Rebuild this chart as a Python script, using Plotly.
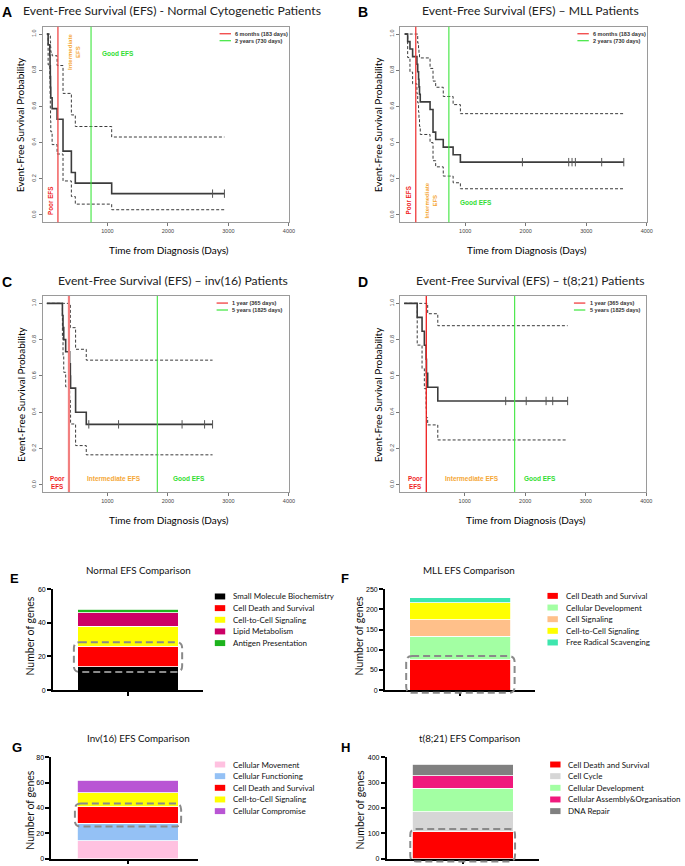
import bisect
import plotly.graph_objects as go

W, H = 685, 866

# ---------------- Kaplan-Meier data ----------------
A_time = [0, 21, 49, 53, 57, 61, 65, 87, 169, 267, 405, 470, 1071, 2934]
A_surv = [1.0, 0.941, 0.882, 0.824, 0.765, 0.706, 0.647, 0.588, 0.529, 0.353, 0.235, 0.176, 0.118, 0.118]
A_upper = [1.0, 1.0, 1.0, 0.99, 0.96, 0.93, 0.90, 0.88, 0.826, 0.672, 0.553, 0.489, 0.431, 0.431]
A_lower = [1.0, 0.83, 0.74, 0.66, 0.59, 0.52, 0.46, 0.389, 0.337, 0.188, 0.102, 0.06, 0.029, 0.029]
A_censor = [2738, 2934]
A_cuts = [183, 730]
A_cut_labels = ["6 months (183 days)", "2 years (730 days)"]

B_time = [0, 49, 87, 131, 202, 215, 229, 236, 245, 257, 419, 468, 512, 637, 800, 920, 3620]
B_surv = [1.0, 0.958, 0.917, 0.875, 0.833, 0.792, 0.75, 0.708, 0.667, 0.625, 0.583, 0.458, 0.417, 0.375, 0.333, 0.292, 0.292]
B_upper = [1.0, 1.0, 1.0, 1.0, 1.0, 0.95, 0.92, 0.89, 0.87, 0.868, 0.81, 0.74, 0.706, 0.655, 0.61, 0.56, 0.56]
B_lower = [1.0, 0.87, 0.79, 0.725, 0.67, 0.62, 0.57, 0.53, 0.49, 0.445, 0.40, 0.30, 0.266, 0.215, 0.178, 0.145, 0.145]
B_censor = [1945, 2710, 2765, 2820, 3255, 3620]
B_cuts = [183, 730]
B_cut_labels = ["6 months (183 days)", "2 years (730 days)"]

C_time = [0, 257, 267, 279, 311, 377, 388, 392, 475, 651, 2738]
C_surv = [1.0, 0.933, 0.867, 0.8, 0.733, 0.667, 0.6, 0.533, 0.4, 0.333, 0.333]
C_upper = [1.0, 1.0, 1.0, 1.0, 1.0, 1.0, 0.866, 0.866, 0.747, 0.687, 0.687]
C_lower = [1.0, 0.81, 0.71, 0.62, 0.54, 0.47, 0.40, 0.335, 0.216, 0.165, 0.165]
C_censor = [693, 1185, 2234, 2606, 2738]
C_cuts = [365, 1825]
C_cut_labels = ["1 year (365 days)", "5 years (1825 days)"]

D_time = [0, 215, 295, 333, 362, 368, 388, 555, 2700]
D_surv = [1.0, 0.923, 0.846, 0.769, 0.692, 0.615, 0.538, 0.462, 0.462]
D_upper = [1.0, 1.0, 1.0, 1.0, 1.0, 1.0, 0.943, 0.877, 0.877]
D_lower = [1.0, 0.77, 0.64, 0.53, 0.42, 0.37, 0.33, 0.247, 0.247]
D_censor = [1677, 2016, 2344, 2454, 2700]
D_cuts = [365, 1825]
D_cut_labels = ["1 year (365 days)", "5 years (1825 days)"]

km_xticks = [1000, 2000, 3000, 4000]
km_yticks = [0.0, 0.2, 0.4, 0.6, 0.8, 1.0]

# ---------------- gene count data ----------------
E_cats = ["Small Molecule Biochemistry", "Cell Death and Survival", "Cell-to-Cell Signaling",
          "Lipid Metabolism", "Antigen Presentation"]
E_vals = [14, 12, 12, 8, 2]
E_cols = ["#000000", "#FF0000", "#FFFF00", "#CC0066", "#1DB31D"]
E_yticks = [0, 20, 40, 60]

F_cats = ["Cell Death and Survival", "Cellular Development", "Cell Signaling",
          "Cell-to-Cell Signaling", "Free Radical Scavenging"]
F_vals = [75, 58, 41, 42, 13]
F_cols = ["#FF0000", "#A3FFA3", "#FFC08A", "#FFFF00", "#3EE6AE"]
F_yticks = [0, 50, 100, 150, 200, 250]

G_cats = ["Cellular Movement", "Cellular Functioning", "Cell Death and Survival",
          "Cell-to-Cell Signaling", "Cellular Compromise"]
G_vals = [14, 14, 13, 11, 10]
G_cols = ["#FFC1E0", "#94C1F5", "#FF0000", "#FFFF00", "#B955D4"]
G_yticks = [0, 20, 40, 60, 80]

H_cats = ["Cell Death and Survival", "Cell Cycle", "Cellular Development",
          "Cellular Assembly&Organisation", "DNA Repair"]
H_vals = [107, 78, 92, 49, 46]
H_cols = ["#FF0000", "#D6D6D6", "#A3FFA3", "#F0197D", "#808080"]
H_yticks = [0, 100, 200, 300, 400]

# ---------------- helpers ----------------
def px(x):
    return x / W


def py(y):
    return 1 - y / H


fig = go.Figure()
annotations = []
shapes = []

TXT = "Lato"
ARIAL = "Liberation Sans"


def ann(text, x, y, size, color="#000000", family=TXT, angle=0, xanchor="center", yanchor="middle", align="center"):
    annotations.append(dict(text=text, x=px(x), y=py(y), xref="paper", yref="paper", showarrow=False,
                            font=dict(size=size, color=color, family=family), textangle=angle,
                            xanchor=xanchor, yanchor=yanchor, align=align))


def step_value(times, surv, t):
    i = bisect.bisect_right(times, t) - 1
    return surv[max(i, 0)]


KM_RANGE_X = [-70, 4000]
KM_RANGE_Y = [-0.04, 1.04]

km_panels = [
    dict(key="", letter="A", xd=(43, 291.5), yd=(23, 220), t=A_time, s=A_surv, u=A_upper, l=A_lower, c=A_censor,
         cuts=A_cuts, cut_labels=A_cut_labels, red="#F04848", redw=1.3),
    dict(key="2", letter="B", xd=(404, 652.5), yd=(23, 220), t=B_time, s=B_surv, u=B_upper, l=B_lower, c=B_censor,
         cuts=B_cuts, cut_labels=B_cut_labels, red="#F03A3A", redw=1.3),
    dict(key="3", letter="C", xd=(43, 291.5), yd=(294.5, 492), t=C_time, s=C_surv, u=C_upper, l=C_lower, c=C_censor,
         cuts=C_cuts, cut_labels=C_cut_labels, red="#F27F7F", redw=2.2),
    dict(key="4", letter="D", xd=(403.5, 652), yd=(294.5, 492), t=D_time, s=D_surv, u=D_upper, l=D_lower, c=D_censor,
         cuts=D_cuts, cut_labels=D_cut_labels, red="#F01E1E", redw=1.3),
]

layout_axes = {}

for p in km_panels:
    k = p["key"]
    xa, ya = "x" + k, "y" + k
    common = dict(showgrid=False, zeroline=False, showline=True, mirror=True, linecolor="#9a9a9a",
                  linewidth=1, ticks="outside", ticklen=3, tickcolor="#777", fixedrange=True,
                  tickfont=dict(size=5.5, family=ARIAL, color="#444"))
    layout_axes["xaxis" + k] = dict(domain=[px(p["xd"][0]), px(p["xd"][1])], range=KM_RANGE_X,
                                    tickvals=km_xticks, anchor=ya, **common)
    layout_axes["yaxis" + k] = dict(domain=[py(p["yd"][1]), py(p["yd"][0])], range=KM_RANGE_Y,
                                    tickvals=km_yticks, ticktext=["%.1f" % v for v in km_yticks],
                                    tickangle=-90, anchor=xa, **common)
    for bound in (p["u"], p["l"]):
        fig.add_trace(go.Scatter(x=p["t"], y=bound, mode="lines", xaxis=xa, yaxis=ya, showlegend=False,
                                 line=dict(shape="hv", color="#3a3a3a", width=1, dash="3px,2px"),
                                 hoverinfo="skip"))
    fig.add_trace(go.Scatter(x=p["t"], y=p["s"], mode="lines", xaxis=xa, yaxis=ya, showlegend=False,
                             line=dict(shape="hv", color="#3c3c3c", width=1.6)))
    fig.add_trace(go.Scatter(x=p["c"], y=[step_value(p["t"], p["s"], t) for t in p["c"]], mode="markers",
                             xaxis=xa, yaxis=ya, showlegend=False,
                             marker=dict(symbol="line-ns", size=6, color="#555",
                                         line=dict(width=1, color="#555"))))
    for cut, col, w in zip(p["cuts"], [p["red"], "#3DE63D"], [p["redw"], 1.1]):
        shapes.append(dict(type="line", xref=xa, yref=ya + " domain", x0=cut, x1=cut, y0=0, y1=1,
                           line=dict(color=col, width=w), layer="above"))
    x0, x1 = p["xd"]
    y0, y1 = p["yd"]
    ann("<b>%s</b>" % p["letter"], x0 - 36 if x0 < 100 else x0 - 37.5, y0 - 14.5, 14, family=ARIAL)
    ann("Time from Diagnosis (Days)", (x0 + x1) / 2 + 3, y1 + 28.5, 10)
    ann("Event-Free Survival Probability", x0 - 22.5, (y0 + y1) / 2 + 0.5, 10, angle=-90)
    for j, (lab, col) in enumerate(zip(p["cut_labels"], [p["red"], "#3DE63D"])):
        ly = y0 + 7 + j * 7
        lx = x1 - 70 if p["letter"] in "AB" else x1 - 73
        shapes.append(dict(type="line", xref="paper", yref="paper", x0=px(lx), x1=px(lx + 11.5),
                           y0=py(ly), y1=py(ly), line=dict(color=col if j else "#F03030", width=1.2)))
        ann("<b>%s</b>" % lab, lx + 14, ly, 5.5, color="#333", family=ARIAL, xanchor="left")

# KM titles
ann("Event-Free Survival (EFS) - Normal Cytogenetic Patients", 174, 6.5, 12.2, color="#222")
ann("Event-Free Survival (EFS) \u2013 MLL Patients", 535.3, 6.5, 12.2, color="#222")
ann("Event-Free Survival (EFS) \u2013 inv(16) Patients", 174.7, 278.3, 12.2, color="#222")
ann("Event-Free Survival (EFS) \u2013 t(8;21) Patients", 535, 278.3, 12.2, color="#222")

RED, ORANGE, GREEN = "#F01E1E", "#F5A735", "#33DD33"
ann("<b>Poor EFS</b>", 51, 199, 6.3, RED, ARIAL, angle=-90)
ann("<b>Intermediate<br>EFS</b>", 74, 48, 6, ORANGE, ARIAL, angle=-90)
ann("<b>Good EFS</b>", 119, 50, 6.5, GREEN, ARIAL)
ann("<b>Poor EFS</b>", 411.7, 198, 6.3, RED, ARIAL, angle=-90)
ann("<b>Intermediate<br>EFS</b>", 434.7, 198.3, 6, ORANGE, ARIAL, angle=-90)
ann("<b>Good EFS</b>", 480, 200, 6.5, GREEN, ARIAL)
ann("<b>Poor<br>EFS</b>", 58.3, 482.5, 6.3, RED, ARIAL)
ann("<b>Intermediate EFS</b>", 115.5, 478.3, 6.5, ORANGE, ARIAL)
ann("<b>Good EFS</b>", 190.8, 478.3, 6.5, GREEN, ARIAL)
ann("<b>Poor<br>EFS</b>", 419.5, 482.5, 6.3, RED, ARIAL)
ann("<b>Intermediate EFS</b>", 476, 478.3, 6.5, ORANGE, ARIAL)
ann("<b>Good EFS</b>", 544.8, 478.3, 6.5, GREEN, ARIAL)

# ---------------- stacked bar panels ----------------
bar_panels = [
    dict(key="5", letter="E", title="Normal EFS Comparison", cats=E_cats, vals=E_vals, cols=E_cols,
         yt=E_yticks, xd=(53.3, 205), yd=(590, 691.7), xr=[-0.75, 0.75],
         hl=(-0.54, 0.54, 10.8, 28.5), letter_xy=(15, 579), title_xy=(139.5, 570.7), ytitle=(30, 637),
         leg_sq=216.7, leg_txt=233.3, leg_y0=597.3),
    dict(key="6", letter="F", title="MLL EFS Comparison", cats=F_cats, vals=F_vals, cols=F_cols,
         yt=F_yticks, xd=(388.3, 540), yd=(590, 691.7), xr=[-0.746, 0.745],
         hl=(-0.535, 0.54, -6.6, 84.4), letter_xy=(348.3, 579), title_xy=(473.3, 570.7), ytitle=(361.7, 637),
         leg_sq=552.3, leg_txt=568.7, leg_y0=596.7),
    dict(key="7", letter="G", title="Inv(16) EFS Comparison", cats=G_cats, vals=G_vals, cols=G_cols,
         yt=G_yticks, xd=(51.7, 200), yd=(759.3, 861.7), xr=[-0.76, 0.70],
         hl=(-0.525, 0.53, 25.3, 43.5), letter_xy=(16.7, 750), title_xy=(139.5, 740), ytitle=(30, 812.5),
         leg_sq=216.7, leg_txt=233.3, leg_y0=766.7),
    dict(key="8", letter="H", title="t(8;21) EFS Comparison", cats=H_cats, vals=H_vals, cols=H_cols,
         yt=H_yticks, xd=(390, 543.3), yd=(759.3, 861.7), xr=[-0.755, 0.753],
         hl=(-0.52, 0.52, -10.4, 117.3), letter_xy=(348.3, 750), title_xy=(473.3, 740), ytitle=(362.7, 812.5),
         leg_sq=555, leg_txt=571, leg_y0=766.7),
]

for p in bar_panels:
    k = p["key"]
    xa, ya = "x" + k, "y" + k
    yr = [p["yt"][0], p["yt"][-1]]
    layout_axes["xaxis" + k] = dict(domain=[px(p["xd"][0]), px(p["xd"][1])], range=p["xr"], anchor=ya,
                                    showgrid=False, zeroline=False, showline=True, linecolor="#000",
                                    linewidth=1.5, ticks="outside", ticklen=4, tickwidth=1.5,
                                    tickcolor="#000", tickvals=[0], ticktext=[""], fixedrange=True)
    layout_axes["yaxis" + k] = dict(domain=[py(p["yd"][1]), py(p["yd"][0])], range=yr, anchor=xa,
                                    showgrid=False, zeroline=False, showline=True, linecolor="#000",
                                    linewidth=1.5, ticks="outside", ticklen=4, tickwidth=1.5,
                                    tickcolor="#000", tickvals=p["yt"], fixedrange=True,
                                    tickfont=dict(size=7, family=ARIAL, color="#000"))
    for cat, v, col in zip(p["cats"], p["vals"], p["cols"]):
        fig.add_trace(go.Bar(x=[0], y=[v], width=1, name=cat, xaxis=xa, yaxis=ya, showlegend=False,
                             marker=dict(color=col, line=dict(color="#FFFFFF", width=0.8))))

    def mx(v, p=p):
        return p["xd"][0] + (v - p["xr"][0]) / (p["xr"][1] - p["xr"][0]) * (p["xd"][1] - p["xd"][0])

    def my(v, p=p, yr=yr):
        return p["yd"][1] - (v - yr[0]) / (yr[1] - yr[0]) * (p["yd"][1] - p["yd"][0])

    hx0, hx1, hy0, hy1 = mx(p["hl"][0]), mx(p["hl"][1]), my(p["hl"][3]), my(p["hl"][2])
    r = 6
    pts = [
        ("M", hx0 + r, hy0), ("L", hx1 - r, hy0), ("Q", hx1, hy0, hx1, hy0 + r), ("L", hx1, hy1 - r),
        ("Q", hx1, hy1, hx1 - r, hy1), ("L", hx0 + r, hy1), ("Q", hx0, hy1, hx0, hy1 - r),
        ("L", hx0, hy0 + r), ("Q", hx0, hy0, hx0 + r, hy0),
    ]
    path = ""
    for seg in pts:
        cmd = seg[0]
        coords = seg[1:]
        parts = []
        for i in range(0, len(coords), 2):
            parts.append("%.5f,%.5f" % (px(coords[i]), py(coords[i + 1])))
        path += cmd + " " + " ".join(parts) + " "
    shapes.append(dict(type="path", xref="paper", yref="paper", path=path + "Z",
                       line=dict(color="#8a8a8a", width=2, dash="7px,4px"), layer="above"))
    ann("<b>%s</b>" % p["letter"], p["letter_xy"][0], p["letter_xy"][1], 13, family=ARIAL)
    ann(p["title"], p["title_xy"][0], p["title_xy"][1], 9.8, color="#111")
    ann("Number of genes", p["ytitle"][0], p["ytitle"][1], 10.5, angle=-90, color="#111")
    for j, (cat, col) in enumerate(zip(p["cats"], p["cols"])):
        ly = p["leg_y0"] + j * 11.75
        shapes.append(dict(type="rect", xref="paper", yref="paper", x0=px(p["leg_sq"]), x1=px(p["leg_sq"] + 10.5),
                           y0=py(ly + 3), y1=py(ly - 3), fillcolor=col, line=dict(width=0)))
        ann(cat, p["leg_txt"], ly, 8.0, color="#111", xanchor="left")

fig.update_layout(
    width=W, height=H, margin=dict(l=0, r=0, t=0, b=0),
    paper_bgcolor="#FFFFFF", plot_bgcolor="#FFFFFF",
    barmode="stack", showlegend=False,
    annotations=annotations, shapes=shapes,
    font=dict(family=TXT),
    **layout_axes,
)

fig.write_html("out.html", config={"displayModeBar": False},
               post_script="document.body.style.margin='0px';")
